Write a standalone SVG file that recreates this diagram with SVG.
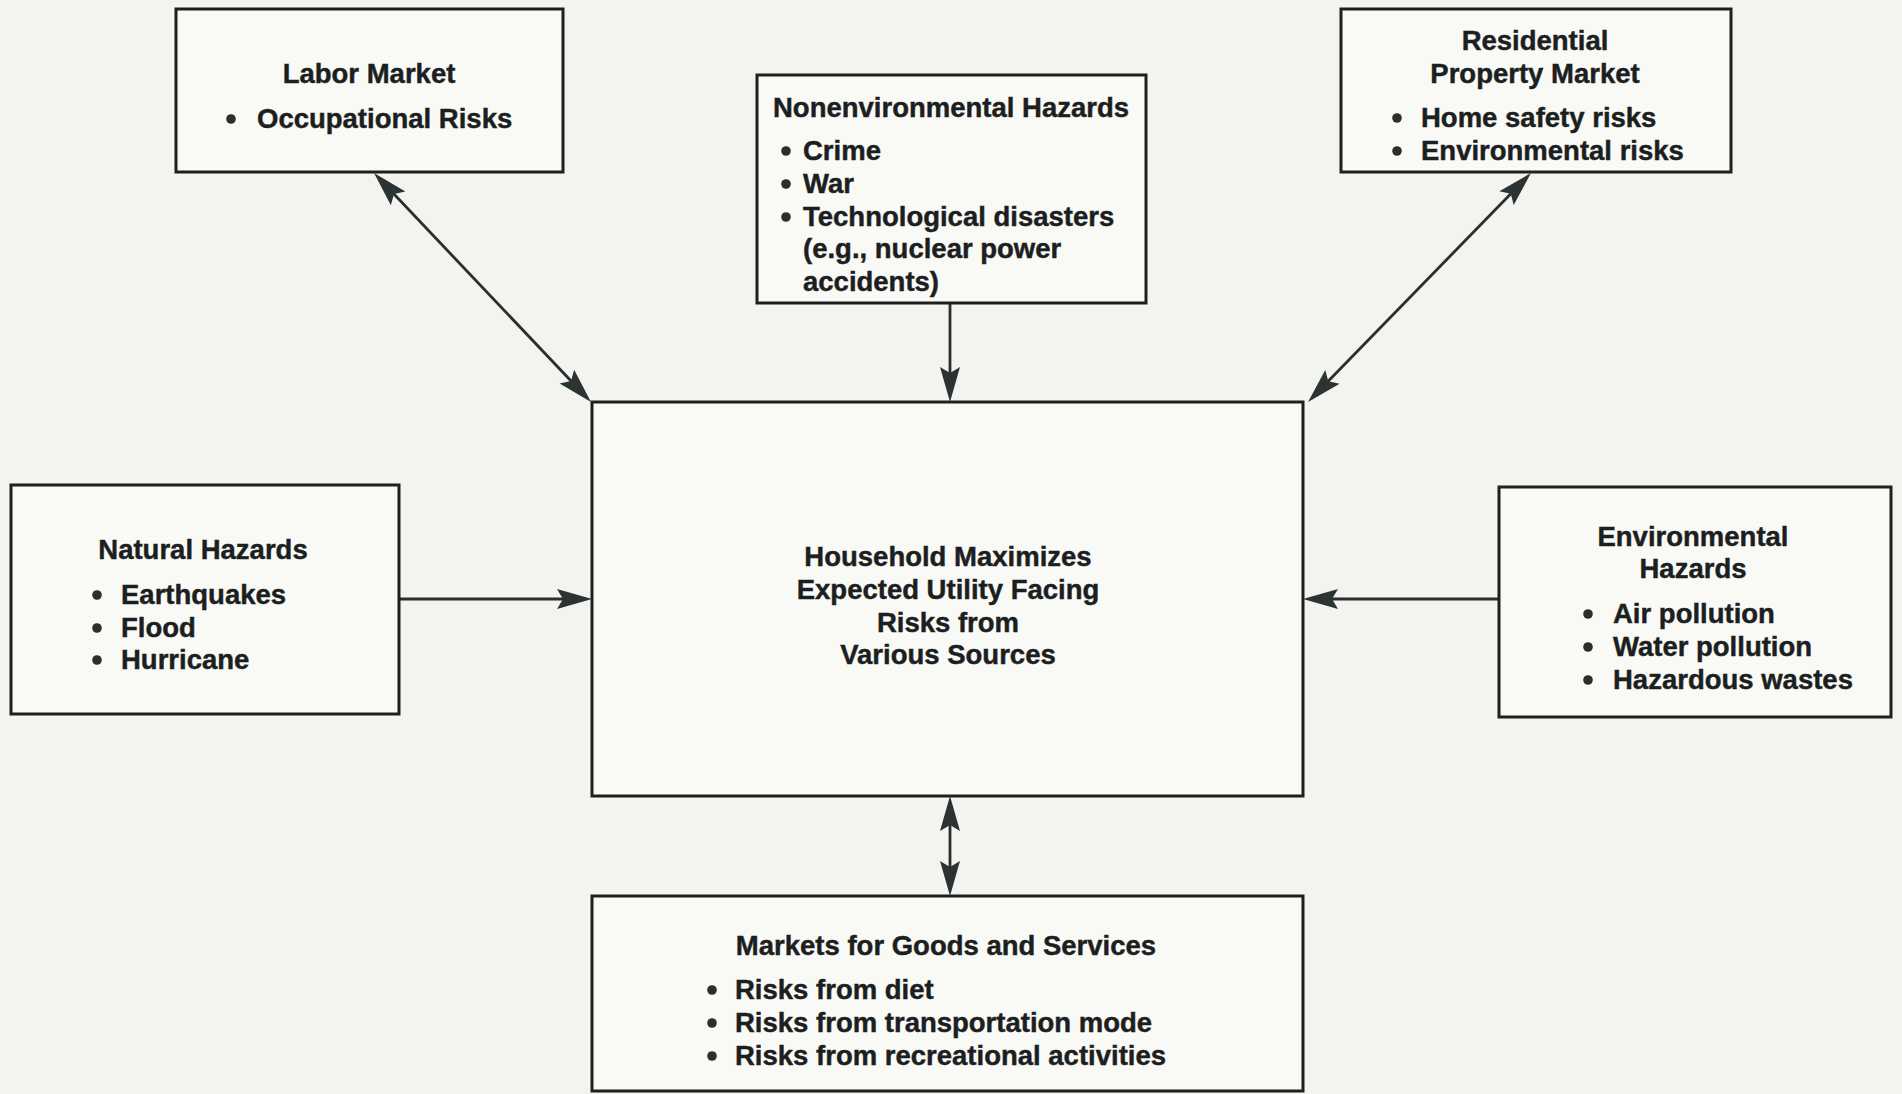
<svg xmlns="http://www.w3.org/2000/svg" width="1902" height="1094" viewBox="0 0 1902 1094">
  <style>
    .box { fill: #f9f9f6; stroke: #1e2020; stroke-width: 3; }
    .t { font-family: "Liberation Sans", Arial, Helvetica, sans-serif; font-weight: bold; font-size: 27.5px; fill: #1c1f1f; stroke: #1c1f1f; stroke-width: 0.45; }
    .c { text-anchor: middle; }
    .dot { fill: #2a2e2e; }
    .link { fill: none; stroke: #2a2e2e; stroke-width: 2.8; }
  </style>
  <defs>
    <marker id="head" markerUnits="userSpaceOnUse" markerWidth="48" markerHeight="28" viewBox="-30 -14 48 28" refX="0" refY="0" orient="auto-start-reverse" overflow="visible">
      <path d="M 10 0 L -25 -10 L -19 0 L -25 10 Z" fill="#2c3333"/>
    </marker>
  </defs>

  <rect x="0" y="0" width="1902" height="1094" fill="#f3f3ef"/>

  <!-- connectors -->
  <g id="connectors">
    <path class="link" d="M 380.9 180.3 L 584.1 394.7" marker-start="url(#head)" marker-end="url(#head)"/>
    <path class="link" d="M 950 304 L 950 392" marker-end="url(#head)"/>
    <path class="link" d="M 1524 180.2 L 1315 394.8" marker-start="url(#head)" marker-end="url(#head)"/>
    <path class="link" d="M 399 599 L 582 599" marker-end="url(#head)"/>
    <path class="link" d="M 1499 599 L 1313 599" marker-end="url(#head)"/>
    <path class="link" d="M 950 806 L 950 886" marker-start="url(#head)" marker-end="url(#head)"/>
  </g>

  <!-- Labor Market -->
  <g id="labor-market">
    <rect class="box" x="176" y="9" width="387" height="163"/>
    <text class="t c" x="369" y="83">Labor Market</text>
    <circle class="dot" cx="231" cy="119" r="4.8"/>
    <text class="t" x="257" y="128">Occupational Risks</text>
  </g>

  <!-- Nonenvironmental Hazards -->
  <g id="nonenvironmental-hazards">
    <rect class="box" x="757" y="75" width="389" height="228"/>
    <text class="t c" x="951" y="117">Nonenvironmental Hazards</text>
    <circle class="dot" cx="786" cy="151" r="4.8"/>
    <text class="t" x="803" y="160">Crime</text>
    <circle class="dot" cx="786" cy="184" r="4.8"/>
    <text class="t" x="803" y="193">War</text>
    <circle class="dot" cx="786" cy="217" r="4.8"/>
    <text class="t" x="803" y="226">Technological disasters</text>
    <text class="t" x="803" y="258">(e.g., nuclear power</text>
    <text class="t" x="803" y="291">accidents)</text>
  </g>

  <!-- Residential Property Market -->
  <g id="residential-property-market">
    <rect class="box" x="1341" y="9" width="390" height="163"/>
    <text class="t c" x="1535" y="50">Residential</text>
    <text class="t c" x="1535" y="83">Property Market</text>
    <circle class="dot" cx="1397" cy="118" r="4.8"/>
    <text class="t" x="1421" y="127">Home safety risks</text>
    <circle class="dot" cx="1397" cy="151" r="4.8"/>
    <text class="t" x="1421" y="160">Environmental risks</text>
  </g>

  <!-- Natural Hazards -->
  <g id="natural-hazards">
    <rect class="box" x="11" y="485" width="388" height="229"/>
    <text class="t c" x="203" y="559">Natural Hazards</text>
    <circle class="dot" cx="97" cy="595" r="4.8"/>
    <text class="t" x="121" y="604">Earthquakes</text>
    <circle class="dot" cx="97" cy="628" r="4.8"/>
    <text class="t" x="121" y="637">Flood</text>
    <circle class="dot" cx="97" cy="660" r="4.8"/>
    <text class="t" x="121" y="669">Hurricane</text>
  </g>

  <!-- Environmental Hazards -->
  <g id="environmental-hazards">
    <rect class="box" x="1499" y="487" width="392" height="230"/>
    <text class="t c" x="1693" y="546">Environmental</text>
    <text class="t c" x="1693" y="578">Hazards</text>
    <circle class="dot" cx="1588" cy="614" r="4.8"/>
    <text class="t" x="1613" y="623">Air pollution</text>
    <circle class="dot" cx="1588" cy="647" r="4.8"/>
    <text class="t" x="1613" y="656">Water pollution</text>
    <circle class="dot" cx="1588" cy="680" r="4.8"/>
    <text class="t" x="1613" y="689">Hazardous wastes</text>
  </g>

  <!-- Household (centre) -->
  <g id="household">
    <rect class="box" x="592" y="402" width="711" height="394"/>
    <text class="t c" x="948" y="566">Household Maximizes</text>
    <text class="t c" x="948" y="599">Expected Utility Facing</text>
    <text class="t c" x="948" y="632">Risks from</text>
    <text class="t c" x="948" y="664">Various Sources</text>
  </g>

  <!-- Markets for Goods and Services -->
  <g id="goods-services-markets">
    <rect class="box" x="592" y="896" width="711" height="195"/>
    <text class="t c" x="946" y="955">Markets for Goods and Services</text>
    <circle class="dot" cx="712" cy="990" r="4.8"/>
    <text class="t" x="735" y="999">Risks from diet</text>
    <circle class="dot" cx="712" cy="1023" r="4.8"/>
    <text class="t" x="735" y="1032">Risks from transportation mode</text>
    <circle class="dot" cx="712" cy="1056" r="4.8"/>
    <text class="t" x="735" y="1065">Risks from recreational activities</text>
  </g>
</svg>
